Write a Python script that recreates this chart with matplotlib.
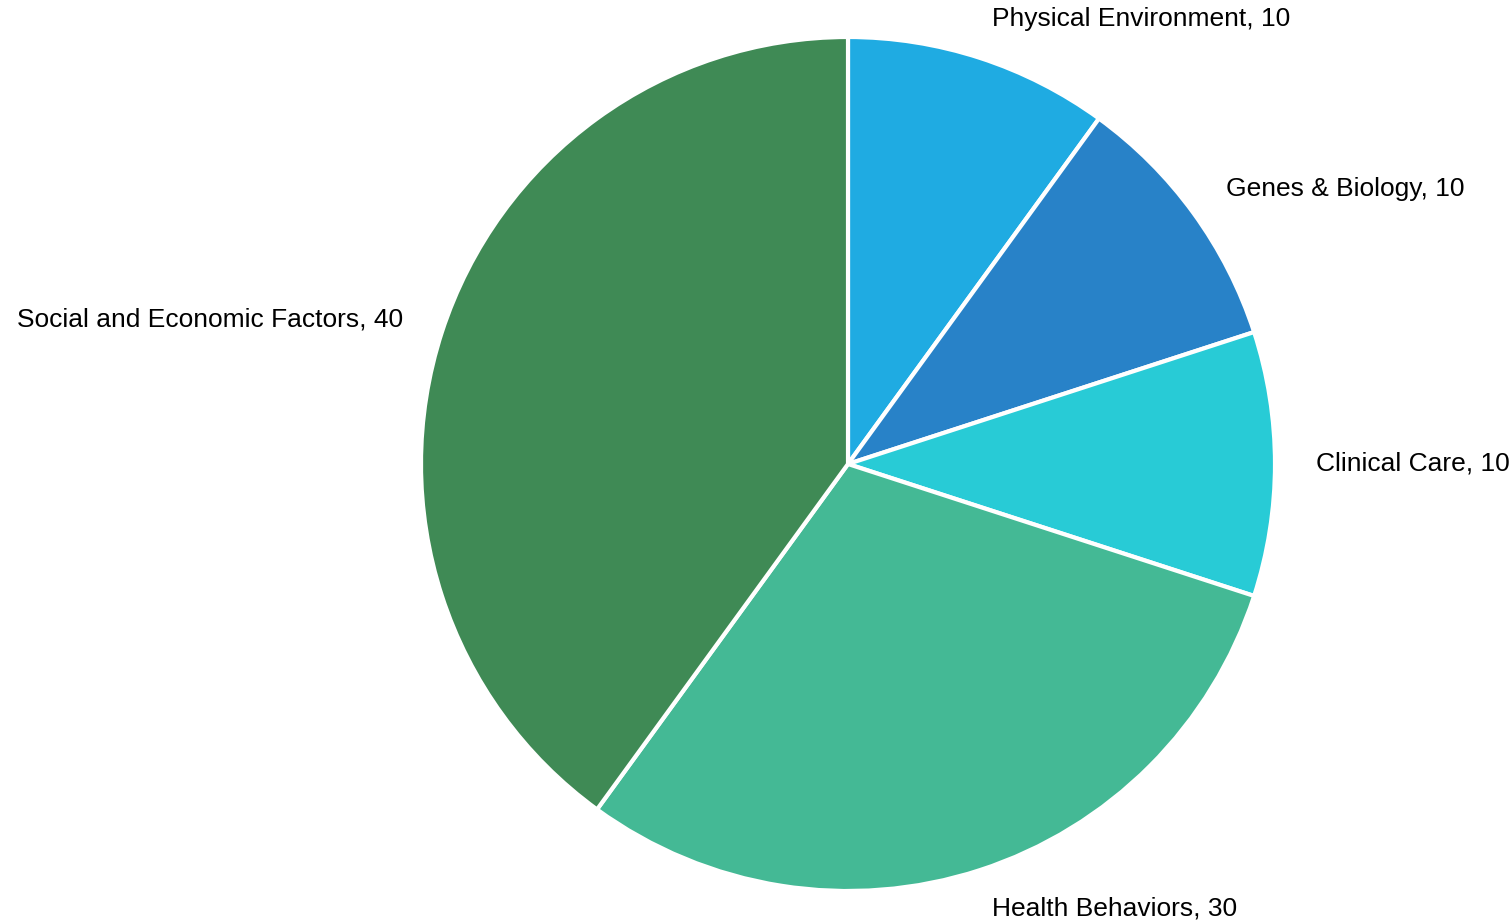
import matplotlib.pyplot as plt

plt.rcParams['font.family'] = ['Liberation Sans', 'DejaVu Sans']

categories = ['Physical Environment', 'Genes & Biology', 'Clinical Care',
              'Health Behaviors', 'Social and Economic Factors']
values = [10, 10, 10, 30, 40]
colors = ['#1FABE2', '#2882C8', '#28CBD6', '#44B995', '#3F8A55']

labels = [f'{c}, {v}' for c, v in zip(categories, values)]

fig = plt.figure(figsize=(15.12, 9.24), dpi=100)
ax = fig.add_axes([0, 0, 1, 1])

ax.pie(values, labels=labels, colors=colors, startangle=90, counterclock=False,
       labeldistance=1.095, wedgeprops=dict(edgecolor='white', linewidth=3),
       textprops=dict(fontsize=19, color='black'))

# radius 1 == 427 px, centre at (848, 464) px from top-left
scale = 427.0
ax.set_xlim(-848 / scale, (1512 - 848) / scale)
ax.set_ylim(-(924 - 464) / scale, 464 / scale)
ax.set_aspect('equal')
ax.axis('off')

fig.savefig('out.png', dpi=100)
